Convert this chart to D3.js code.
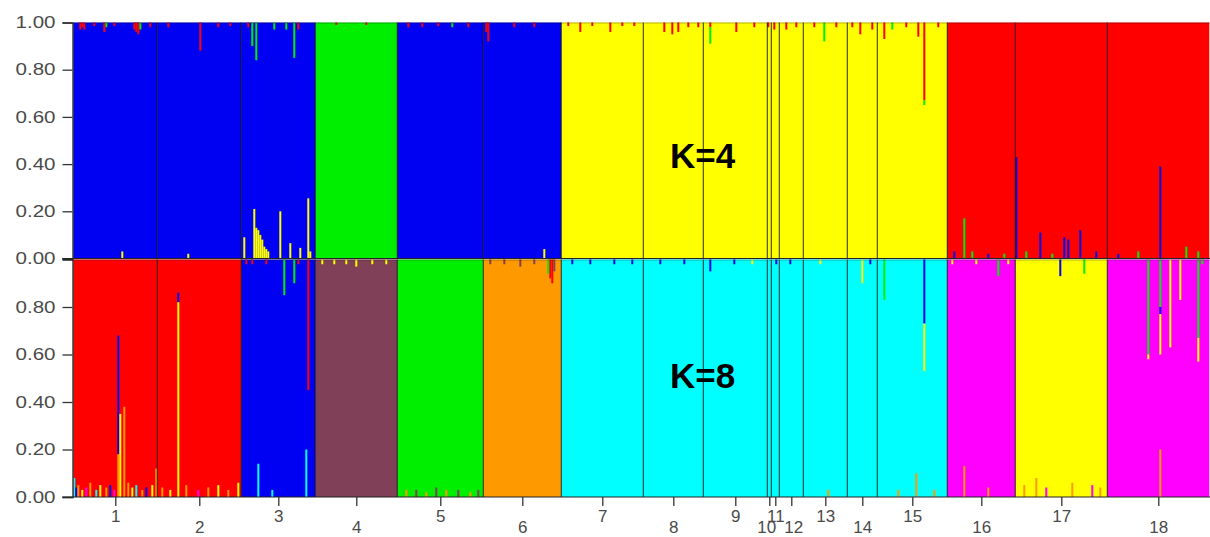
<!DOCTYPE html>
<html><head><meta charset="utf-8">
<script src="https://cdn.jsdelivr.net/npm/d3@7"></script>
<style>body{margin:0;background:#fff}svg{display:block}</style>
</head><body>
<svg id="chart" width="1210" height="537"></svg>
<script>
// ---------------- DATA ----------------
const populations = ["1","2","3","4","5","6","7","8","9","10","11","12","13","14","15","16","17","18"];
// number of individuals per population
const popSizes = [42,42,37,41,43,39,41,30,32,2,4,12,22,15,35,34,46,51];
const yTicksTop = [0,0.2,0.4,0.6,0.8,1.0];
const yTicksBottom = [0,0.2,0.4,0.6,0.8];
const panelLabels = ["K=4","K=8"];

// K=4 clusters: 0 red, 1 green, 2 blue, 3 yellow
const k4Colors = ["#ff0000","#00ee00","#0000f2","#ffff00"];
const k4StackTopToBottom = [0,1,2,3];
const k4Dominant = [2,2,2,1,2,2,3,3,3,3,3,3,3,3,3,0,0,0];
// admixed individuals: [population (1-based), individual in population, cluster, membership]
const k4Admixed = [
  [1,3,0,.03],[1,4,0,.02],[1,5,0,.03],[1,10,0,.015],[1,15,0,.04],[1,16,1,.02],[1,20,0,.015],[1,24,3,.03],[1,30,0,.03],[1,31,0,.04],[1,32,0,.05],[1,33,1,.03],[1,38,0,.02],
  [2,5,0,.02],[2,15,3,.02],[2,21,0,.12],[2,30,0,.02],[2,36,0,.015],
  [3,1,3,.09],[3,3,0,.02],[3,5,1,.10],[3,6,3,.21],[3,7,1,.16],[3,7,3,.13],[3,8,3,.12],[3,9,3,.10],[3,10,3,.08],[3,11,3,.05],[3,12,3,.04],[3,13,3,.03],[3,16,1,.03],[3,19,3,.20],[3,22,1,.03],[3,24,3,.065],[3,26,1,.15],[3,28,0,.03],[3,29,3,.045],[3,33,3,.255],[3,34,3,.03],
  [4,10,0,.01],[4,25,0,.01],
  [5,5,0,.02],[5,12,0,.02],[5,20,0,.015],[5,27,1,.02],[5,35,0,.02],
  [6,1,0,.04],[6,2,0,.08],[6,15,0,.02],[6,25,0,.02],[6,30,3,.04],
  [7,3,0,.015],[7,9,0,.04],[7,15,0,.015],[7,24,0,.04],[7,30,0,.015],[7,36,0,.015],
  [8,10,0,.04],[8,14,0,.05],[8,17,0,.04],[8,22,0,.02],[8,27,0,.02],
  [9,3,1,.07],[9,3,0,.02],[9,16,0,.04],[9,25,0,.02],
  [10,0,0,.02],[11,1,0,.03],[12,3,0,.03],[12,8,0,.02],
  [13,10,1,.08],[13,5,0,.02],[13,16,0,.02],
  [14,2,0,.02],[14,6,0,.05],[14,12,0,.03],
  [15,3,0,.07],[15,7,1,.03],[15,14,0,.02],[15,20,0,.06],[15,23,0,.33],[15,23,1,.02],[15,30,0,.02],
  [16,3,2,.03],[16,8,1,.17],[16,12,1,.03],[16,20,2,.02],[16,28,1,.02],
  [17,0,2,.43],[17,5,1,.03],[17,12,2,.11],[17,18,1,.02],[17,24,2,.09],[17,26,2,.08],[17,32,2,.12],[17,40,2,.03],
  [18,5,2,.02],[18,15,1,.03],[18,26,2,.39],[18,39,1,.05],[18,45,1,.03]
];

// K=8 clusters: 0 red, 1 green, 2 blue, 3 yellow, 4 cyan, 5 magenta, 6 brown, 7 orange
const k8Colors = ["#ff0000","#00ee00","#0000f2","#ffff00","#00ffff","#ff00ff","#804058","#ff9900"];
const k8StackTopToBottom = [0,1,2,3,4,5,6,7];
const k8Dominant = [0,0,2,6,1,7,4,4,4,4,4,4,4,4,4,5,3,5];
const k8Admixed = [
  [1,0,4,.08],[1,1,2,.04],[1,2,7,.05],[1,4,3,.03],[1,6,5,.04],[1,8,7,.06],[1,11,4,.03],[1,13,3,.05],[1,16,7,.04],[1,18,2,.05],[1,20,5,.03],
  [1,22,2,.50],[1,22,7,.18],[1,23,3,.35],[1,25,7,.38],[1,27,7,.06],[1,29,3,.04],[1,31,4,.05],[1,34,7,.03],[1,36,2,.04],[1,39,3,.05],[1,41,7,.12],
  [2,2,7,.04],[2,6,3,.03],[2,10,2,.04],[2,10,3,.82],[2,14,7,.05],[2,20,5,.03],[2,25,7,.04],[2,30,3,.05],[2,35,7,.03],[2,40,3,.06],
  [3,2,0,.02],[3,5,0,.02],[3,8,4,.14],[3,12,0,.02],[3,15,4,.03],[3,21,1,.15],[3,26,1,.10],[3,28,0,.02],[3,32,4,.20],[3,33,0,.55],
  [4,3,3,.02],[4,9,3,.02],[4,15,3,.02],[4,20,3,.03],[4,28,3,.02],[4,35,3,.02],
  [5,4,7,.03],[5,9,6,.03],[5,14,7,.02],[5,19,6,.04],[5,24,7,.03],[5,30,6,.03],[5,36,7,.02],[5,40,6,.03],
  [6,3,6,.02],[6,10,6,.02],[6,18,6,.03],[6,25,6,.02],[6,32,1,.06],[6,33,0,.08],[6,34,0,.10],[6,35,6,.05],
  [7,5,2,.02],[7,14,2,.02],[7,26,2,.02],[7,35,2,.02],
  [8,8,2,.02],[8,20,2,.02],
  [9,3,2,.05],[9,15,2,.02],[9,24,3,.02],
  [11,2,2,.02],[12,5,2,.02],[13,8,3,.02],[13,12,7,.03],
  [14,7,3,.10],[14,11,2,.02],
  [15,3,1,.17],[15,10,7,.03],[15,19,7,.10],[15,23,2,.27],[15,23,3,.20],[15,28,7,.03],
  [16,2,3,.02],[16,8,7,.13],[16,14,3,.02],[16,20,7,.04],[16,25,1,.07],[16,30,3,.02],
  [17,4,7,.05],[17,10,7,.08],[17,15,5,.04],[17,22,2,.07],[17,28,7,.06],[17,34,1,.06],[17,38,5,.05],[17,42,7,.04],
  [18,20,1,.40],[18,20,3,.02],[18,26,1,.20],[18,26,2,.03],[18,26,3,.17],[18,26,7,.20],[18,31,3,.37],[18,36,3,.17],[18,45,1,.33],[18,45,3,.10],[18,47,1,.02]
];

// ---------------- LAYOUT ----------------
const svg = d3.select("#chart");
const plotLeft = 73.3, plotRight = 1209.3;
const panels = [
  {top:22.5, bottom:258.5, colors:k4Colors, order:k4StackTopToBottom, dominant:k4Dominant, admixed:k4Admixed, ticks:yTicksTop, label:panelLabels[0], labelY:168},
  {top:259.5, bottom:497, colors:k8Colors, order:k8StackTopToBottom, dominant:k8Dominant, admixed:k8Admixed, ticks:yTicksBottom, label:panelLabels[1], labelY:388}
];

const total = d3.sum(popSizes);
const starts = popSizes.map((s,i)=>d3.sum(popSizes.slice(0,i)));
const x = d3.scaleLinear().domain([0,total]).range([plotLeft, plotRight]);

function buildIndividuals(p){
  const K = p.colors.length;
  const inds = [];
  popSizes.forEach((n,pi)=>{
    for(let i=0;i<n;i++){
      const q = new Array(K).fill(0);
      p.admixed.filter(a=>a[0]===pi+1 && a[1]===i).forEach(a=>{q[a[2]]+=a[3];});
      q[p.dominant[pi]] = Math.max(0, 1 - d3.sum(q));
      inds.push({index:starts[pi]+i, pop:pi, q});
    }
  });
  return inds;
}

panels.forEach(p=>{
  const y = d3.scaleLinear().domain([0,1]).range([p.bottom, p.top]);
  const g = svg.append("g");
  // background of each population in its dominant cluster colour
  g.selectAll("rect.base").data(popSizes).join("rect")
    .attr("class","base")
    .attr("x",(d,i)=>x(starts[i]))
    .attr("width",(d,i)=>x(starts[i]+d)-x(starts[i]))
    .attr("y",y(1)).attr("height",y(0)-y(1))
    .attr("fill",(d,i)=>p.colors[p.dominant[i]]);

  const inds = buildIndividuals(p);
  const segs = [];
  inds.forEach(d=>{
    let cum = 0;
    p.order.forEach(k=>{
      const v = d.q[k];
      if(v>0){
        if(k!==p.dominant[d.pop]) segs.push({i:d.index, hi:1-cum, lo:1-cum-v, k});
        cum += v;
      }
    });
  });
  g.selectAll("rect.seg").data(segs).join("rect")
    .attr("class","seg")
    .attr("x", d=>x(d.i))
    .attr("width", d=>x(d.i+1)-x(d.i))
    .attr("y", d=>y(d.hi))
    .attr("height", d=>Math.max(0,y(d.lo)-y(d.hi)))
    .attr("fill", d=>p.colors[d.k]);

  // population separators
  g.selectAll("line.sep").data(starts.slice(1)).join("line")
    .attr("class","sep")
    .attr("x1", d=>x(d)).attr("x2", d=>x(d))
    .attr("y1", p.top).attr("y2", p.bottom)
    .attr("stroke","#101010").attr("stroke-width",1.1).attr("stroke-opacity",0.8);

  // faint top edge of the plot
  g.append("line").attr("x1",plotLeft).attr("x2",plotRight+1)
    .attr("y1",p.top+0.5).attr("y2",p.top+0.5).attr("stroke","#000").attr("stroke-opacity",0.3);

  // y axis
  const ax = g.append("g").attr("transform",`translate(${plotLeft-0.8},0)`)
    .call(d3.axisLeft(y).tickValues(p.ticks).tickFormat(d3.format(".2f")).tickSize(10).tickPadding(7));
  ax.select(".domain").attr("stroke","#222").attr("stroke-width",1.3);
  ax.selectAll(".tick line").attr("stroke","#333").attr("stroke-width",1.3);
  ax.selectAll(".tick text")
    .attr("fill","#4a4a4a")
    .style("font-family","'Liberation Sans', Arial, sans-serif")
    .style("font-size","16px")
    .attr("textLength",40).attr("lengthAdjust","spacingAndGlyphs");

  // panel bottom line
  g.append("line").attr("x1",plotLeft-11).attr("x2",plotRight+1)
    .attr("y1",p.bottom).attr("y2",p.bottom).attr("stroke","#222").attr("stroke-width",1.2);

  g.append("text").attr("x",670).attr("y",p.labelY)
    .text(p.label)
    .style("font-family","'Liberation Sans', Arial, sans-serif")
    .style("font-weight","bold").style("font-size","35px").attr("fill","#000");
});

// x axis with population labels (alternating rows)
const mids = popSizes.map((s,i)=>starts[i]+s/2);
const labelShift = {"10":-3,"12":2};
const xAxis = svg.append("g").attr("transform",`translate(0,${panels[1].bottom})`)
  .call(d3.axisBottom(x).tickValues(mids).tickFormat((d,i)=>populations[i]).tickSize(9).tickPadding(6));
xAxis.select(".domain").remove();
xAxis.selectAll(".tick line").attr("stroke","#333").attr("stroke-width",1.3);
xAxis.selectAll(".tick text")
  .attr("fill","#4a4a4a")
  .attr("y", (d,i)=> i%2===0 ? 25 : 35.5)
  .attr("dy", 0)
  .attr("x",(d,i)=> labelShift[populations[i]]||0)
  .style("font-family","'Liberation Sans', Arial, sans-serif")
  .style("font-size","17px");
</script>
</body></html>
